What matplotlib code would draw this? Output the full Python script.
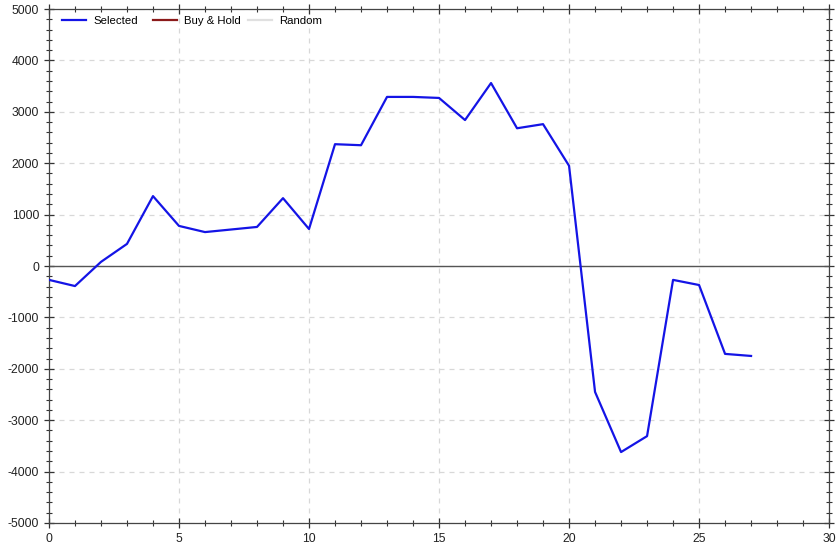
import matplotlib
matplotlib.use("Agg")
import matplotlib.pyplot as plt
from matplotlib.ticker import MultipleLocator
from matplotlib.legend import Legend

x_vals = list(range(28))
selected = [-270, -390, 80, 430, 1360, 780, 660, 710, 760, 1320, 720, 2370, 2350,
            3290, 3290, 3270, 2840, 3560, 2680, 2760, 1950, -2450, -3620, -3310,
            -270, -370, -1710, -1750]
legend_labels = ["Selected", "Buy & Hold", "Random"]

plt.rcParams['font.family'] = ['Liberation Sans', 'DejaVu Sans']
plt.rcParams['axes.unicode_minus'] = False
fig = plt.figure(figsize=(8.4, 5.47), dpi=100)
ax = fig.add_axes([0.0583, 0.0439, 0.9287, 0.9396])

h1, = ax.plot(x_vals, selected, color='#1414e6', lw=1.6, label=legend_labels[0], zorder=3)
h2, = ax.plot([], [], color='#8b1a1a', lw=1.6, label=legend_labels[1])
h3, = ax.plot([], [], color='#e0e0e0', lw=1.6, label=legend_labels[2])
ax.axhline(0, color='#555555', lw=1.0, zorder=2)

ax.set_xlim(0, 30)
ax.set_ylim(-5000, 5000)
ax.xaxis.set_major_locator(MultipleLocator(5))
ax.xaxis.set_minor_locator(MultipleLocator(1))
ax.yaxis.set_major_locator(MultipleLocator(1000))
ax.yaxis.set_minor_locator(MultipleLocator(200))
ax.grid(True, which='major', color='#d8d8d8', ls=(0, (4, 4)), lw=0.9)
ax.tick_params(which='both', direction='inout', top=True, right=True,
               labelsize=8.7, colors='#333333', labelcolor='#222222')
ax.tick_params(which='major', length=7, width=0.9)
ax.tick_params(which='minor', length=4, width=0.8)
for s in ax.spines.values():
    s.set_color('#444444')
    s.set_linewidth(0.9)

anchors = [0.0167, 0.1333, 0.2551]
for h, lab, xa in zip([h1, h2, h3], legend_labels, anchors):
    lg = Legend(ax, [h], [lab], loc='upper left', frameon=False, fontsize=8.2,
                handlelength=2.1, handletextpad=0.65, borderpad=0,
                borderaxespad=0, bbox_to_anchor=(xa, 0.986),
                bbox_transform=ax.transAxes)
    ax.add_artist(lg)
fig.savefig("out.png", dpi=100)
